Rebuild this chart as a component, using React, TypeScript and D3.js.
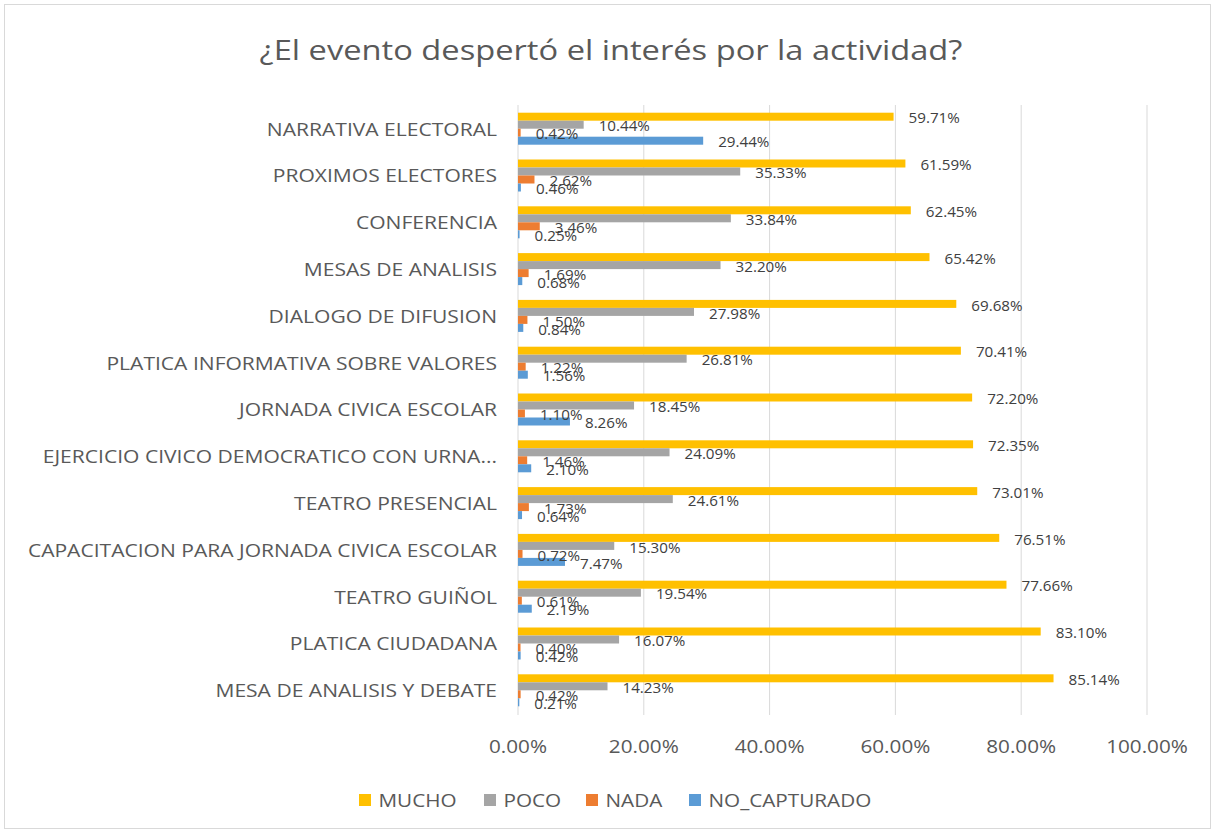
import React from "react";
import * as d3 from "d3";

const categories = [
  "NARRATIVA ELECTORAL",
  "PROXIMOS ELECTORES",
  "CONFERENCIA",
  "MESAS DE ANALISIS",
  "DIALOGO DE DIFUSION",
  "PLATICA INFORMATIVA SOBRE VALORES",
  "JORNADA CIVICA ESCOLAR",
  "EJERCICIO CIVICO DEMOCRATICO CON URNA...",
  "TEATRO PRESENCIAL",
  "CAPACITACION PARA JORNADA CIVICA ESCOLAR",
  "TEATRO GUIÑOL",
  "PLATICA CIUDADANA",
  "MESA DE ANALISIS Y DEBATE",
];

const mucho = [59.71, 61.59, 62.45, 65.42, 69.68, 70.41, 72.2, 72.35, 73.01, 76.51, 77.66, 83.1, 85.14];
const poco = [10.44, 35.33, 33.84, 32.2, 27.98, 26.81, 18.45, 24.09, 24.61, 15.3, 19.54, 16.07, 14.23];
const nada = [0.42, 2.62, 3.46, 1.69, 1.5, 1.22, 1.1, 1.46, 1.73, 0.72, 0.61, 0.4, 0.42];
const noCapturado = [29.44, 0.46, 0.25, 0.68, 0.84, 1.56, 8.26, 2.1, 0.64, 7.47, 2.19, 0.42, 0.21];

const seriesNames = ["MUCHO", "POCO", "NADA", "NO_CAPTURADO"];
const seriesValues = [mucho, poco, nada, noCapturado];
const seriesColors = ["#FFC000", "#A5A5A5", "#ED7D31", "#5B9BD5"];

const xTicks = [0, 20, 40, 60, 80, 100];

const W = 1215;
const H = 833;
const FONT = "'Open Sans', sans-serif";
const TEXT = "#595959";

function SText(props: {
  x: number;
  y: number;
  sx: number;
  anchor?: "start" | "middle" | "end";
  size: number;
  fill: string;
  children: React.ReactNode;
}) {
  return (
    <text
      transform={`translate(${props.x},${props.y}) scale(${props.sx},1)`}
      textAnchor={props.anchor || "start"}
      dominantBaseline="central"
      fontSize={props.size}
      fill={props.fill}
    >
      {props.children}
    </text>
  );
}

export default function App() {
  const x = d3.scaleLinear().domain([0, 100]).range([518, 1147]);
  const y = d3.scaleBand<string>().domain(categories).range([105.3, 713.7]);
  const inner = d3.scaleBand<string>().domain(seriesNames).range([0, 32]);
  const groupOffset = (y.bandwidth() - 32) / 2;
  const fmt = (v: number) => v.toFixed(2) + "%";

  const legendX = [359, 484, 586, 689];

  return (
    <svg
      width={W}
      height={H}
      style={{ position: "absolute", left: 0, top: 0, background: "#fff" }}
      fontFamily={FONT}
    >
      <rect x={4.5} y={4.5} width={1206} height={824} fill="#fff" stroke="#D9D9D9" strokeWidth={1} />
      <SText x={611} y={50} sx={1.21} anchor="middle" size={27} fill={TEXT}>
        ¿El evento despertó el interés por la actividad?
      </SText>

      {xTicks.map((t) => (
        <g key={t}>
          <line x1={x(t)} x2={x(t)} y1={105} y2={715} stroke="#D9D9D9" strokeWidth={1} />
          <SText x={x(t)} y={746} sx={1.09} anchor="middle" size={19} fill={TEXT}>
            {t.toFixed(2) + "%"}
          </SText>
        </g>
      ))}

      {categories.map((c) => (
        <SText
          key={c}
          x={497}
          y={(y(c) as number) + y.bandwidth() / 2}
          sx={1.17}
          anchor="end"
          size={18}
          fill={TEXT}
        >
          {c}
        </SText>
      ))}

      {categories.map((c, i) => (
        <g key={c} transform={`translate(0,${(y(c) as number) + groupOffset})`}>
          {seriesNames.map((s, k) => {
            const v = seriesValues[k][i];
            return (
              <rect
                key={s}
                x={x(0)}
                y={inner(s) as number}
                width={x(v) - x(0)}
                height={inner.bandwidth()}
                fill={seriesColors[k]}
              />
            );
          })}
        </g>
      ))}

      {categories.map((c, i) => (
        <g key={c} transform={`translate(0,${(y(c) as number) + groupOffset})`}>
          {seriesNames.map((s, k) => {
            const v = seriesValues[k][i];
            const by = inner(s) as number;
            return (
              <SText
                key={s}
                x={x(v) + 15}
                y={by + inner.bandwidth() / 2 + 1}
                sx={1.085}
                size={14}
                fill="#404040"
              >
                {fmt(v)}
              </SText>
            );
          })}
        </g>
      ))}

      {seriesNames.map((s, k) => (
        <g key={s}>
          <rect x={legendX[k]} y={794} width={12} height={12} fill={seriesColors[k]} />
          <SText x={legendX[k] + 19.5} y={800} sx={1.09} size={19} fill={TEXT}>
            {s}
          </SText>
        </g>
      ))}
    </svg>
  );
}
